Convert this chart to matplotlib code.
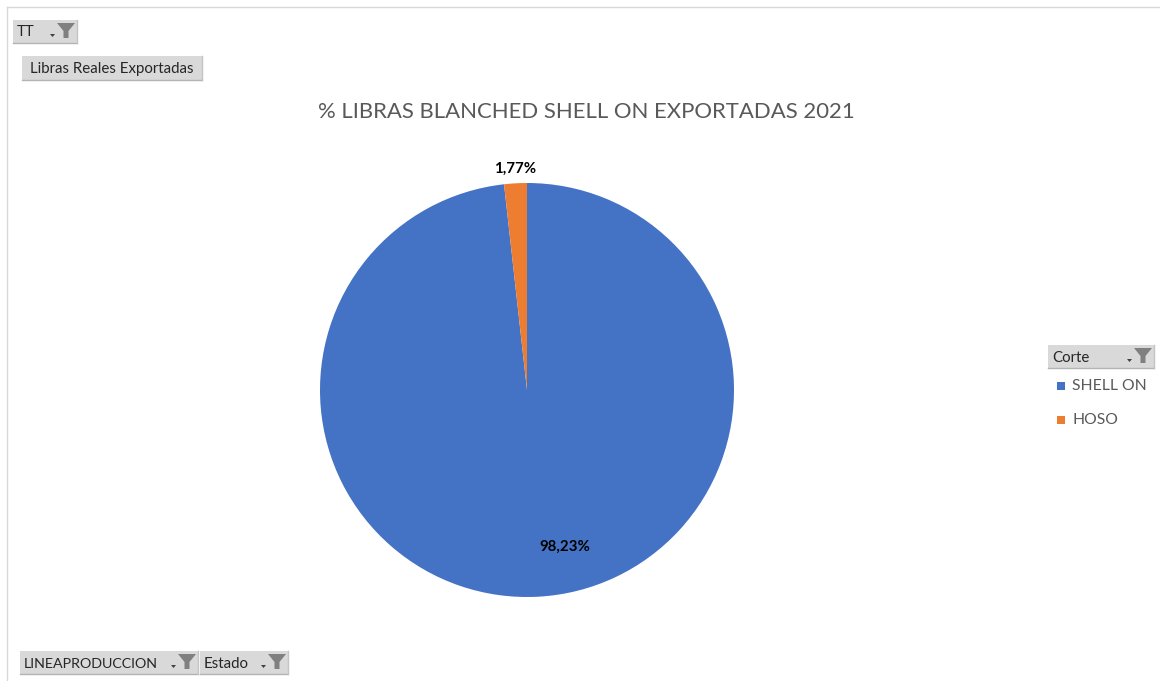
import numpy as np
import matplotlib.pyplot as plt
from matplotlib.patches import Rectangle, Polygon
from matplotlib.lines import Line2D

plt.rcParams['font.family'] = ['Lato', 'DejaVu Sans']

# pie data
categories = ['SHELL ON', 'HOSO']
shares = [98.23, 1.77]
colors = ['#4472C4', '#ED7D31']
title = '% LIBRAS BLANCHED SHELL ON EXPORTADAS 2021'

W, H = 1160, 681
fig = plt.figure(figsize=(W / 100, H / 100), dpi=100)


def fx(x):
    return x / W


def fy(y):
    return 1 - y / H


# chart area border (top and left edges)
fig.add_artist(Line2D([fx(7), fx(W)], [fy(7), fy(7)], color='#d9d9d9', lw=1))
fig.add_artist(Line2D([fx(7), fx(7)], [fy(7), fy(H)], color='#d9d9d9', lw=1))


def funnel(x, y):
    # gray filter icon with its dropdown arrow, x,y = top-left in px
    pts = [(x + 7, y), (x + 25, y), (x + 18.5, y + 8), (x + 18.5, y + 15),
           (x + 13.5, y + 15), (x + 13.5, y + 8)]
    fig.add_artist(Polygon([(fx(a), fy(b)) for a, b in pts], closed=True,
                           color='#808080', lw=0))
    arr = [(x, y + 11), (x + 5, y + 11), (x + 2.5, y + 14)]
    fig.add_artist(Polygon([(fx(a), fy(b)) for a, b in arr], closed=True,
                           color='#404040', lw=0))


def button(x0, y0, x1, y1, label, icon=True, pad=5, size=10.8):
    fig.add_artist(Rectangle((fx(x0), fy(y1)), fx(x1 - x0), (y1 - y0) / H,
                             facecolor='#d9d9d9', edgecolor='none'))
    fig.add_artist(Line2D([fx(x0), fx(x1)], [fy(y1), fy(y1)], color='#b3b3b3', lw=1))
    fig.add_artist(Line2D([fx(x1), fx(x1)], [fy(y0), fy(y1)], color='#c4c4c4', lw=1))
    fig.text(fx(x0 + pad), fy((y0 + y1) / 2 + 1), label, fontsize=size,
             color='#262626', va='center', ha='left')
    if icon:
        funnel(x1 - 27, y0 + 3)


button(13, 20, 77, 43, 'TT', pad=4)
button(22, 56, 202, 80, 'Libras Reales Exportadas', icon=False, pad=8)
button(20, 651, 198, 674, 'LINEAPRODUCCION', pad=4, size=10.3)
button(200, 651, 288, 674, 'Estado', pad=4)
button(1048, 345, 1154, 368, 'Corte', pad=4)

fig.text(fx(586), fy(112), title, fontsize=15.9, color='#595959',
         ha='center', va='center')

# pie
cx, cy, r = 527, 390, 207
ax = fig.add_axes([fx(cx - r), fy(cy + r), 2 * r / W, 2 * r / H])
wedges, _ = ax.pie(shares, colors=colors, startangle=90, counterclock=False,
                   wedgeprops=dict(linewidth=0))
ax.set_xlim(-1, 1)
ax.set_ylim(-1, 1)
ax.set_aspect('equal')
ax.axis('off')

for w, v in zip(wedges, shares):
    mid = np.deg2rad((w.theta1 + w.theta2) / 2)
    txt = f'{v:.2f}%'.replace('.', ',')
    if v > 50:
        # large slice: label inside, nudged like the spreadsheet layout
        ang, dist = mid + np.deg2rad(10.5), 0.78
    else:
        ang, dist = mid, 1.07
    ax.text(dist * np.cos(ang), dist * np.sin(ang), txt, ha='center',
            va='center', fontsize=10.8, fontweight='bold', color='black')

# legend
for i, (c, col) in enumerate(zip(categories, colors)):
    y = 386 + 34 * i
    fig.add_artist(Rectangle((fx(1057), fy(y + 4)), fx(8), 8 / H,
                             facecolor=col, edgecolor='none'))
    fig.text(fx(1072), fy(y), c, fontsize=11.3, color='#595959',
             ha='left', va='center')

fig.savefig('out.png', dpi=100)
